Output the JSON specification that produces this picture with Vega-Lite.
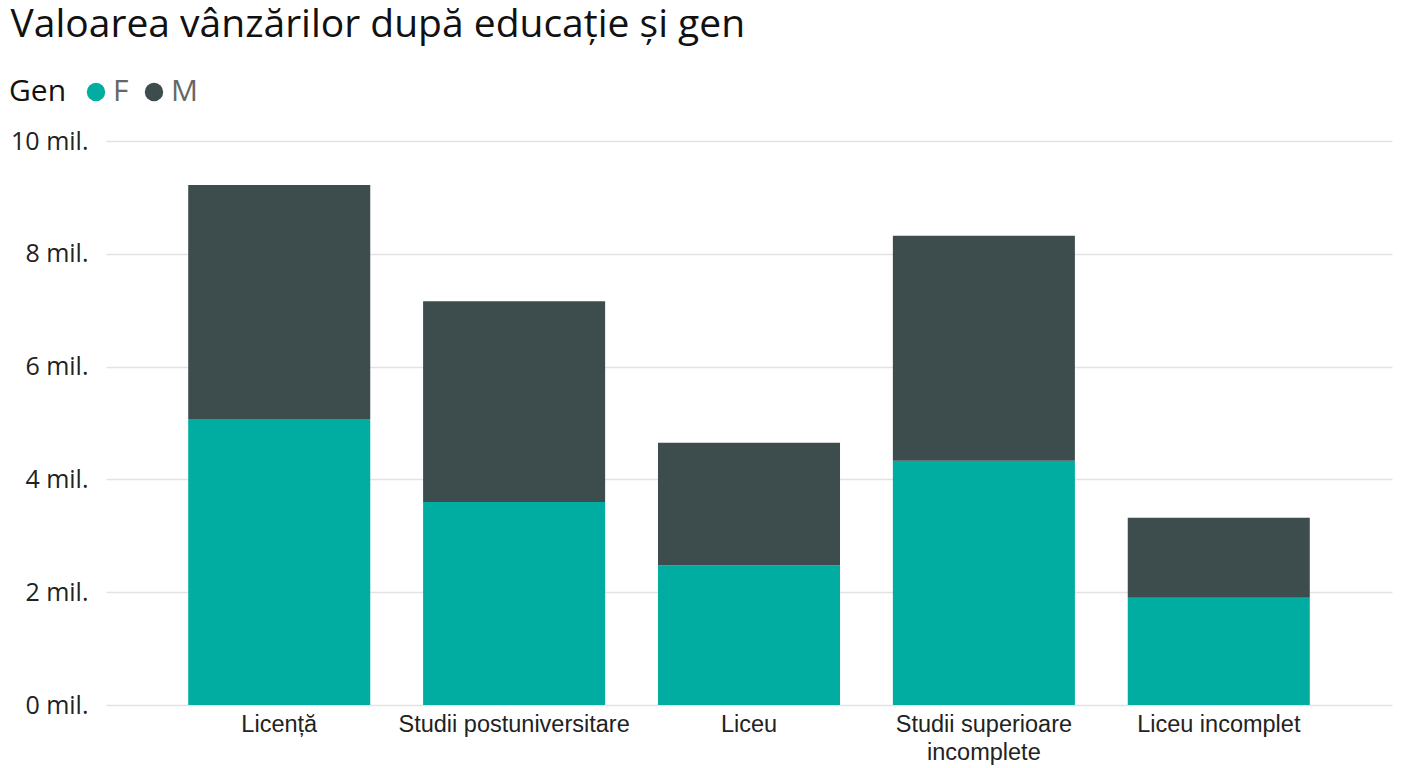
{
  "$schema": "https://vega.github.io/schema/vega-lite/v6.json",
  "width": 1408,
  "height": 768,
  "autosize": {"type": "fit", "contains": "padding"},
  "padding": {"left": 10, "top": 6, "right": 16, "bottom": 4},
  "background": "white",
  "title": {
    "text": "Valoarea vânzărilor după educație și gen",
    "anchor": "start",
    "frame": "bounds",
    "font": "Open Sans",
    "fontSize": 39,
    "fontWeight": "normal",
    "color": "#111111",
    "offset": 84
  },
  "data": {
    "values": [
      {"educatie": "Licență", "gen": "F", "valoare": 5.07},
      {"educatie": "Licență", "gen": "M", "valoare": 4.15},
      {"educatie": "Studii postuniversitare", "gen": "F", "valoare": 3.60},
      {"educatie": "Studii postuniversitare", "gen": "M", "valoare": 3.56},
      {"educatie": "Liceu", "gen": "F", "valoare": 2.48},
      {"educatie": "Liceu", "gen": "M", "valoare": 2.17},
      {"educatie": "Studii superioare incomplete", "gen": "F", "valoare": 4.33},
      {"educatie": "Studii superioare incomplete", "gen": "M", "valoare": 3.99},
      {"educatie": "Liceu incomplet", "gen": "F", "valoare": 1.90},
      {"educatie": "Liceu incomplet", "gen": "M", "valoare": 1.42}
    ]
  },
  "mark": {"type": "bar"},
  "encoding": {
    "x": {
      "field": "educatie",
      "type": "nominal",
      "sort": null,
      "scale": {"paddingInner": 0.225, "paddingOuter": 0.35},
      "axis": {
        "title": null,
        "labelAngle": 0,
        "labelFont": "Liberation Sans",
        "labelFontSize": 23.5,
        "labelColor": "#222222",
        "labelPadding": 7,
        "labelLimit": 400,
        "labelExpr": "datum.label == 'Studii superioare incomplete' ? ['Studii superioare', 'incomplete'] : datum.label",
        "labelLineHeight": 28,
        "ticks": false,
        "domain": false
      }
    },
    "y": {
      "field": "valoare",
      "type": "quantitative",
      "aggregate": "sum",
      "scale": {"domain": [0, 10]},
      "stack": "zero",
      "axis": {
        "title": null,
        "values": [0, 2, 4, 6, 8, 10],
        "labelExpr": "datum.value + ' mil.'",
        "labelFont": "Open Sans",
        "labelFontSize": 25,
        "labelColor": "#222222",
        "labelPadding": 18,
        "ticks": false,
        "domain": false,
        "grid": true,
        "gridColor": "#e3e3e3",
        "gridWidth": 1.5
      }
    },
    "color": {
      "field": "gen",
      "type": "nominal",
      "scale": {"domain": ["F", "M"], "range": ["#01ADA0", "#3D4D4E"]},
      "legend": {
        "title": "Gen",
        "orient": "none",
        "legendX": -97,
        "legendY": -64,
        "direction": "horizontal",
        "titleOrient": "left",
        "titleFont": "Open Sans",
        "titleFontSize": 30,
        "titleFontWeight": "normal",
        "titleColor": "#111111",
        "titlePadding": 14,
        "labelFont": "Open Sans",
        "labelFontSize": 30,
        "labelColor": "#666666",
        "symbolType": "circle",
        "symbolSize": 340,
        "symbolStrokeWidth": 0,
        "labelOffset": 2,
        "columnPadding": 10
      }
    },
    "order": {"field": "gen", "sort": "ascending"}
  },
  "config": {"view": {"stroke": null}}
}
